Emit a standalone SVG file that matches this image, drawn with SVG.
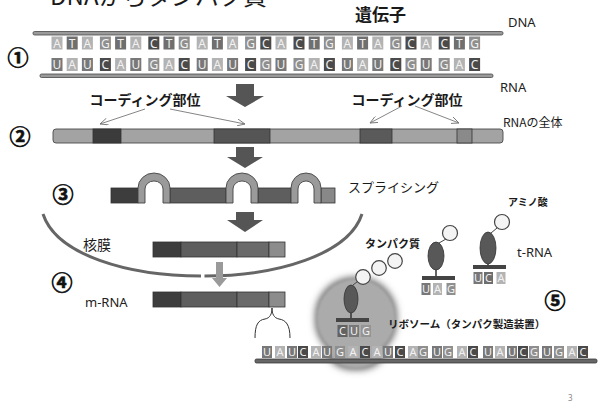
<svg xmlns="http://www.w3.org/2000/svg" width="607" height="414" viewBox="0 0 607 414">
<style>
  .jp { font-family: "Noto Sans CJK JP", "Noto Sans", sans-serif; fill: #1a1a1a; }
  .b { font-weight: bold; }
  .lat { font-family: "Noto Sans", "Liberation Sans", sans-serif; fill: #222; }
  .num { font-family: "Noto Sans CJK JP", sans-serif; font-weight: bold; font-size: 21px; fill: #111; stroke: #111; stroke-width: 0.7; text-anchor: middle; }
  .nt rect { stroke: none; }
  .nt text { font-family: "Noto Sans", "Liberation Sans", sans-serif; fill: #f2f2f2; text-anchor: middle; }
  .A { fill: #b3b3b3; }
  .T { fill: #6f6f6f; }
  .U { fill: #787878; }
  .G { fill: #8f8f8f; }
  .C { fill: #4a4a4a; }
  .strand { fill: #9a9a9a; stroke: #474747; stroke-width: 0.8; }
  .bigarrow { fill: #555; }
  .seg { stroke: #333; stroke-width: 0.8; }
  .thin { stroke: #777; stroke-width: 0.9; fill: none; marker-end: url(#open); }
  .ball { fill: #f4f4f4; stroke: #444; stroke-width: 1.2; }
  .body { fill: #585858; stroke: #333; stroke-width: 0.8; }
  .bar { fill: #444; }
</style>
<defs>
  <marker id="open" viewBox="0 0 10 8" refX="9" refY="4" markerWidth="9" markerHeight="7" markerUnits="userSpaceOnUse" orient="auto">
    <path d="M0,0 L9,4 L0,8" fill="none" stroke="#777" stroke-width="1"/>
  </marker>
  <filter id="glow" x="-40%" y="-40%" width="180%" height="180%">
    <feMorphology in="SourceAlpha" operator="dilate" radius="2" result="d"/>
    <feGaussianBlur in="d" stdDeviation="3.5" result="bl"/>
    <feFlood flood-color="#6a6a6a"/>
    <feComposite in2="bl" operator="in" result="sh"/>
    <feGaussianBlur in="SourceGraphic" stdDeviation="0.8" result="sg"/>
    <feMerge><feMergeNode in="sh"/><feMergeNode in="sg"/></feMerge>
  </filter>
</defs>
<rect width="607" height="414" fill="#fff"/>

<!-- title, clipped by the top edge -->
<text class="jp" x="50" y="5" font-size="24" textLength="217">DNAからタンパク質</text>

<!-- step numbers -->
<text class="num" x="18" y="65">①</text>
<text class="num" x="20" y="144">②</text>
<text class="num" x="63" y="202">③</text>
<text class="num" x="62" y="290">④</text>
<text class="num" x="555" y="308">⑤</text>

<!-- 1: DNA / RNA strands -->
<g id="dna">
  <text class="jp b" x="355" y="21" font-size="17">遺伝子</text>
  <text class="lat" x="508" y="27" font-size="13">DNA</text>
  <rect class="strand" x="33" y="31.5" width="470" height="3.5" rx="1.5"/>
  <g class="nt">
    <rect class="A" x="51.5" y="36.5" width="11" height="13"/><rect class="T" x="66.7" y="36.5" width="11" height="13"/><rect class="A" x="81.9" y="36.5" width="11" height="13"/>
    <rect class="G" x="99.9" y="36.5" width="11" height="13"/><rect class="T" x="115.1" y="36.5" width="11" height="13"/><rect class="A" x="130.3" y="36.5" width="11" height="13"/>
    <rect class="C" x="148.3" y="36.5" width="11" height="13"/><rect class="T" x="163.5" y="36.5" width="11" height="13"/><rect class="G" x="178.7" y="36.5" width="11" height="13"/>
    <rect class="A" x="196.7" y="36.5" width="11" height="13"/><rect class="T" x="211.9" y="36.5" width="11" height="13"/><rect class="A" x="227.1" y="36.5" width="11" height="13"/>
    <rect class="G" x="245.1" y="36.5" width="11" height="13"/><rect class="C" x="260.3" y="36.5" width="11" height="13"/><rect class="A" x="275.5" y="36.5" width="11" height="13"/>
    <rect class="C" x="293.5" y="36.5" width="11" height="13"/><rect class="T" x="308.7" y="36.5" width="11" height="13"/><rect class="G" x="323.9" y="36.5" width="11" height="13"/>
    <rect class="A" x="341.9" y="36.5" width="11" height="13"/><rect class="T" x="357.1" y="36.5" width="11" height="13"/><rect class="A" x="372.3" y="36.5" width="11" height="13"/>
    <rect class="G" x="390.3" y="36.5" width="11" height="13"/><rect class="C" x="405.5" y="36.5" width="11" height="13"/><rect class="A" x="420.7" y="36.5" width="11" height="13"/>
    <rect class="C" x="438.7" y="36.5" width="11" height="13"/><rect class="T" x="453.9" y="36.5" width="11" height="13"/><rect class="G" x="469.1" y="36.5" width="11" height="13"/>
    <g font-size="12">
      <text x="57" y="47.5">A</text><text x="72.2" y="47.5">T</text><text x="87.4" y="47.5">A</text>
      <text x="105.4" y="47.5">G</text><text x="120.6" y="47.5">T</text><text x="135.8" y="47.5">A</text>
      <text x="153.8" y="47.5">C</text><text x="169" y="47.5">T</text><text x="184.2" y="47.5">G</text>
      <text x="202.2" y="47.5">A</text><text x="217.4" y="47.5">T</text><text x="232.6" y="47.5">A</text>
      <text x="250.6" y="47.5">G</text><text x="265.8" y="47.5">C</text><text x="281" y="47.5">A</text>
      <text x="299" y="47.5">C</text><text x="314.2" y="47.5">T</text><text x="329.4" y="47.5">G</text>
      <text x="347.4" y="47.5">A</text><text x="362.6" y="47.5">T</text><text x="377.8" y="47.5">A</text>
      <text x="395.8" y="47.5">G</text><text x="411" y="47.5">C</text><text x="426.2" y="47.5">A</text>
      <text x="444.2" y="47.5">C</text><text x="459.4" y="47.5">T</text><text x="474.6" y="47.5">G</text>
    </g>
  </g>
</g>

<g id="rna">
  <g class="nt">
    <rect class="U" x="51.5" y="58" width="11" height="13"/><rect class="A" x="66.7" y="58" width="11" height="13"/><rect class="U" x="81.9" y="58" width="11" height="13"/>
    <rect class="C" x="99.9" y="58" width="11" height="13"/><rect class="A" x="115.1" y="58" width="11" height="13"/><rect class="U" x="130.3" y="58" width="11" height="13"/>
    <rect class="G" x="148.3" y="58" width="11" height="13"/><rect class="A" x="163.5" y="58" width="11" height="13"/><rect class="C" x="178.7" y="58" width="11" height="13"/>
    <rect class="U" x="196.7" y="58" width="11" height="13"/><rect class="A" x="211.9" y="58" width="11" height="13"/><rect class="U" x="227.1" y="58" width="11" height="13"/>
    <rect class="C" x="245.1" y="58" width="11" height="13"/><rect class="G" x="260.3" y="58" width="11" height="13"/><rect class="U" x="275.5" y="58" width="11" height="13"/>
    <rect class="G" x="293.5" y="58" width="11" height="13"/><rect class="A" x="308.7" y="58" width="11" height="13"/><rect class="C" x="323.9" y="58" width="11" height="13"/>
    <rect class="U" x="341.9" y="58" width="11" height="13"/><rect class="A" x="357.1" y="58" width="11" height="13"/><rect class="U" x="372.3" y="58" width="11" height="13"/>
    <rect class="C" x="390.3" y="58" width="11" height="13"/><rect class="G" x="405.5" y="58" width="11" height="13"/><rect class="U" x="420.7" y="58" width="11" height="13"/>
    <rect class="G" x="438.7" y="58" width="11" height="13"/><rect class="A" x="453.9" y="58" width="11" height="13"/><rect class="C" x="469.1" y="58" width="11" height="13"/>
    <g font-size="12">
      <text x="57" y="69">U</text><text x="72.2" y="69">A</text><text x="87.4" y="69">U</text>
      <text x="105.4" y="69">C</text><text x="120.6" y="69">A</text><text x="135.8" y="69">U</text>
      <text x="153.8" y="69">G</text><text x="169" y="69">A</text><text x="184.2" y="69">C</text>
      <text x="202.2" y="69">U</text><text x="217.4" y="69">A</text><text x="232.6" y="69">U</text>
      <text x="250.6" y="69">C</text><text x="265.8" y="69">G</text><text x="281" y="69">U</text>
      <text x="299" y="69">G</text><text x="314.2" y="69">A</text><text x="329.4" y="69">C</text>
      <text x="347.4" y="69">U</text><text x="362.6" y="69">A</text><text x="377.8" y="69">U</text>
      <text x="395.8" y="69">C</text><text x="411" y="69">G</text><text x="426.2" y="69">U</text>
      <text x="444.2" y="69">G</text><text x="459.4" y="69">A</text><text x="474.6" y="69">C</text>
    </g>
  </g>
  <rect class="strand" x="40" y="74" width="453" height="3.5" rx="1.5"/>
  <text class="lat" x="500" y="92" font-size="13">RNA</text>
</g>

<!-- 2: whole RNA with coding regions -->
<g id="rna-whole">
  <text class="jp b" x="145" y="104.5" font-size="14" text-anchor="middle">コーディング部位</text>
  <text class="jp b" x="407" y="104.5" font-size="14" text-anchor="middle">コーディング部位</text>
  <text class="jp" x="503" y="127" font-size="12">RNAの全体</text>
  <rect x="53" y="129" width="450" height="14" rx="3" fill="#a3a3a3" stroke="#4a4a4a" stroke-width="0.9"/>
  <rect class="seg" x="93" y="129" width="28" height="14" fill="#3b3b3b"/>
  <rect class="seg" x="214" y="129" width="56" height="14" fill="#555"/>
  <rect class="seg" x="360" y="129" width="32" height="14" fill="#5a5a5a"/>
  <rect class="seg" x="457" y="129" width="15" height="14" fill="#8a8a8a"/>
</g>

<!-- 3: splicing -->
<g id="splicing">
  <rect class="seg" x="111" y="188" width="27" height="15" fill="#3d3d3d"/>
  <rect class="seg" x="170" y="188" width="56" height="15" fill="#5e5e5e"/>
  <rect class="seg" x="258" y="188" width="33" height="15" fill="#5e5e5e"/>
  <rect class="seg" x="321" y="188" width="14" height="15" fill="#888"/>
  <g fill="#9a9a9a" stroke="#444" stroke-width="0.9">
    <path d="M138,203 L138,188 A16,15 0 0 1 170,188 L170,203 L163,203 L163,189 A9,8 0 0 0 145,189 L145,203 Z"/>
    <path d="M226,203 L226,188 A16,15 0 0 1 258,188 L258,203 L251,203 L251,189 A9,8 0 0 0 233,189 L233,203 Z"/>
    <path d="M291,203 L291,188 A15,15 0 0 1 321,188 L321,203 L314,203 L314,189 A8,8 0 0 0 298,189 L298,203 Z"/>
  </g>
  <text class="jp" x="348" y="192" font-size="13">スプライシング</text>
</g>

<!-- nuclear membrane -->
<g id="membrane">
  <path d="M43,214 C56.5,255 128,276 201,276" fill="none" stroke="#666" stroke-width="3"/>
  <path d="M204.5,276 C276,276 348.5,255 362,214" fill="none" stroke="#666" stroke-width="3"/>
  <text class="jp" x="83" y="250" font-size="14">核膜</text>
</g>

<g id="spliced-rna">
  <rect class="seg" x="153" y="242" width="28" height="15" fill="#3d3d3d"/>
  <rect class="seg" x="181" y="242" width="56" height="15" fill="#5e5e5e"/>
  <rect class="seg" x="237" y="242" width="32" height="15" fill="#6a6a6a"/>
  <rect class="seg" x="269" y="242" width="16" height="15" fill="#8c8c8c"/>
</g>

<!-- 4: m-RNA -->
<g id="m-rna">
  <text class="lat" x="85" y="307" font-size="13">m-RNA</text>
  <rect class="seg" x="153" y="292" width="28" height="15" fill="#3d3d3d"/>
  <rect class="seg" x="181" y="292" width="56" height="15" fill="#5e5e5e"/>
  <rect class="seg" x="237" y="292" width="32" height="15" fill="#6a6a6a"/>
  <rect class="seg" x="269" y="292" width="16" height="15" fill="#8c8c8c"/>
  <path d="M255,338 C255,325 258,320 265,319 C270,318 272,314 272,308 C272,314 274,318 279,319 C286,320 290,325 290,338" fill="none" stroke="#333" stroke-width="1"/>
</g>

<!-- 5: ribosome on the m-RNA -->
<g id="ribosome">
  <g filter="url(#glow)" fill="#ababab">
    <circle cx="356" cy="318" r="39"/>
    <ellipse cx="356" cy="351" rx="26" ry="17"/>
  </g>
  <line x1="353" y1="285" x2="362" y2="278" stroke="#444" stroke-width="1"/>
  <circle class="ball" cx="363" cy="277" r="7.3"/>
  <circle class="ball" cx="379" cy="268" r="7.3"/>
  <circle class="ball" cx="395" cy="261" r="7.3"/>
  <ellipse class="body" cx="351" cy="299" rx="7" ry="14"/>
  <line x1="351" y1="313" x2="351" y2="318" stroke="#333" stroke-width="1.5"/>
  <rect class="bar" x="336" y="318" width="33" height="4"/>
  <g class="nt">
    <rect class="C" x="337.5" y="325" width="10" height="12" opacity="0.75"/><rect class="U" x="349" y="325" width="10" height="12"/><rect class="G" x="361" y="325" width="10" height="12" opacity="0.85"/>
    <g font-size="11"><text x="342.5" y="335">C</text><text x="354" y="335">U</text><text x="366" y="335">G</text></g>
  </g>
  <text class="jp b" x="365" y="248" font-size="11">タンパク質</text>
  <text class="jp b" x="388" y="328" font-size="10.5">リボソーム（タンパク製造装置）</text>
</g>

<g id="trna-uag">
  <line x1="439" y1="243" x2="446" y2="239" stroke="#444" stroke-width="1"/>
  <circle class="ball" cx="450" cy="233" r="7.5"/>
  <ellipse class="body" cx="436" cy="256" rx="8" ry="14"/>
  <line x1="436" y1="270" x2="436" y2="276" stroke="#333" stroke-width="1.5"/>
  <rect class="bar" x="422" y="276" width="33" height="4"/>
  <g class="nt">
    <rect class="U" x="421.5" y="283" width="9" height="12"/><rect class="A" x="433" y="283" width="9" height="12"/><rect class="G" x="446.5" y="283" width="9" height="12"/>
    <g font-size="11"><text x="426" y="293">U</text><text x="437.5" y="293">A</text><text x="451" y="293">G</text></g>
  </g>
</g>

<g id="trna-uca">
  <line x1="491" y1="233" x2="497" y2="228" stroke="#444" stroke-width="1"/>
  <circle class="ball" cx="502" cy="222" r="7.5"/>
  <ellipse class="body" cx="488" cy="248" rx="8" ry="16"/>
  <line x1="488" y1="264" x2="488" y2="265" stroke="#333" stroke-width="1.5"/>
  <rect class="bar" x="473" y="265" width="33" height="4"/>
  <g class="nt">
    <rect class="U" x="473.5" y="272" width="9" height="12"/><rect class="C" x="484" y="272" width="9" height="12" opacity="0.8"/><rect class="A" x="496.5" y="272" width="9" height="12"/>
    <g font-size="11"><text x="478" y="282">U</text><text x="488.5" y="282">C</text><text x="501" y="282">A</text></g>
  </g>
  <text class="jp b" x="508" y="206" font-size="10">アミノ酸</text>
  <text class="lat" x="517" y="257" font-size="13">t-RNA</text>
</g>

<g id="mrna-strand">
  <g class="nt">
    <rect class="U" x="262" y="346" width="10" height="12"/><rect class="A" x="275" y="346" width="10" height="12"/><rect class="U" x="287" y="346" width="10" height="12"/>
    <rect class="C" x="298" y="346" width="10" height="12"/><rect class="A" x="311" y="346" width="10" height="12"/><rect class="U" x="322" y="346" width="10" height="12"/>
    <rect class="G" x="335" y="346" width="10" height="12"/><rect class="A" x="348" y="346" width="10" height="12"/><rect class="C" x="360" y="346" width="10" height="12"/>
    <rect class="A" x="372" y="346" width="10" height="12"/><rect class="U" x="383" y="346" width="10" height="12"/><rect class="C" x="395" y="346" width="10" height="12"/>
    <rect class="A" x="408" y="346" width="10" height="12"/><rect class="G" x="418" y="346" width="10" height="12"/><rect class="U" x="432" y="346" width="10" height="12"/>
    <rect class="G" x="443" y="346" width="10" height="12"/><rect class="A" x="457" y="346" width="10" height="12"/><rect class="C" x="468" y="346" width="10" height="12"/>
    <rect class="U" x="483" y="346" width="10" height="12"/><rect class="A" x="495" y="346" width="10" height="12"/><rect class="U" x="507" y="346" width="10" height="12"/>
    <rect class="C" x="518" y="346" width="10" height="12"/><rect class="G" x="529" y="346" width="10" height="12"/><rect class="U" x="542" y="346" width="10" height="12"/>
    <rect class="G" x="554" y="346" width="10" height="12"/><rect class="A" x="567" y="346" width="10" height="12"/><rect class="C" x="578" y="346" width="10" height="12"/>
    <g font-size="11">
      <text x="267" y="356">U</text><text x="280" y="356">A</text><text x="292" y="356">U</text>
      <text x="303" y="356">C</text><text x="316" y="356">A</text><text x="327" y="356">U</text>
      <text x="340" y="356">G</text><text x="353" y="356">A</text><text x="365" y="356">C</text>
      <text x="377" y="356">A</text><text x="388" y="356">U</text><text x="400" y="356">C</text>
      <text x="413" y="356">A</text><text x="423" y="356">G</text><text x="437" y="356">U</text>
      <text x="448" y="356">G</text><text x="462" y="356">A</text><text x="473" y="356">C</text>
      <text x="488" y="356">U</text><text x="500" y="356">A</text><text x="512" y="356">U</text>
      <text x="523" y="356">C</text><text x="534" y="356">G</text><text x="547" y="356">U</text>
      <text x="559" y="356">G</text><text x="572" y="356">A</text><text x="583" y="356">C</text>
    </g>
  </g>
  <rect x="255" y="359" width="342" height="4" rx="1.5" fill="#666" stroke="#3a3a3a" stroke-width="0.8"/>
</g>

<!-- connectors -->
<g id="connectors">
  <path class="bigarrow" d="M236,84 H254 V96 H264 L245,107 L226,96 H236 Z"/>
  <path class="bigarrow" d="M236,147 H254 V157 H263 L245,168 L227,157 H236 Z"/>
  <path class="bigarrow" d="M236,212 H254 V220 H263 L245,232 L227,220 H236 Z"/>
  <path d="M216,262 H223 V278 H227 L219.5,287 L212,278 H216 Z" fill="#9a9a9a"/>
  <line class="thin" x1="145" y1="109" x2="100" y2="124"/>
  <line class="thin" x1="170" y1="109" x2="245" y2="124"/>
  <line class="thin" x1="402" y1="106" x2="370" y2="123"/>
  <line class="thin" x1="415" y1="106" x2="459" y2="123"/>
</g>

<text x="568" y="401" font-family="Noto Sans, sans-serif" font-size="8" fill="#888">3</text>
</svg>
